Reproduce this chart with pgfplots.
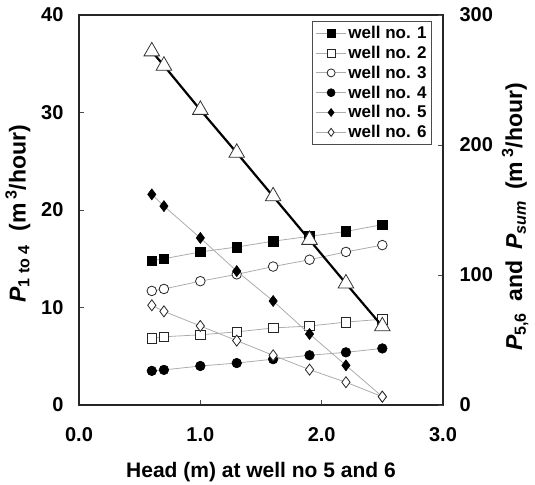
\documentclass[border=0pt]{standalone}
\usepackage{pgfplots}
\pgfplotsset{compat=1.18}
\usepackage{fontspec}
\setmainfont{Liberation Sans}
\pgfplotstableread{
x    w1   w2  w3   w4  w5    w6   sum
0.6  14.8 6.8 11.7 3.5 162   76.7 272
0.7  15.0 7.0 11.9 3.6 153   72.0 261
1.0  15.7 7.2 12.7 4.0 128.5 60.8 227
1.3  16.2 7.5 13.4 4.3 103   49.5 194
1.6  16.8 7.9 14.2 4.7 80    38.2 160.5
1.9  17.3 8.1 14.9 5.1 54.6  27.2 127
2.2  17.8 8.5 15.7 5.4 30.5  17.5 93.5
2.5  18.5 8.8 16.4 5.8 6.4   6.4  60.5
}\datatable
\begin{document}
\begin{tikzpicture}
\pgfplotsset{
  every axis/.append style={
    scale only axis, width=364pt, height=390pt, xmin=0, xmax=3,
    /pgf/number format/assume math mode=true,
    tick label style={font=\fontsize{20}{24}\selectfont\bfseries},
    label style={font=\fontsize{23}{26}\selectfont\bfseries},
    major tick style={black!70, line width=0.8pt},
    major tick length=5pt,
    axis line style={black!85, line width=1.3pt},
  },
  wl/.style={gray!65, line width=0.8pt},
  mfs/.style={mark=square*, mark size=4.8pt, mark options={solid, fill=black, draw=black, line width=0.6pt}},
  mos/.style={mark=square*, mark size=4.8pt, mark options={solid, fill=white, draw=black!85, line width=0.8pt}},
  moc/.style={mark=*, mark size=4.8pt, mark options={solid, fill=white, draw=black!85, line width=0.8pt}},
  mfc/.style={mark=*, mark size=4.8pt, mark options={solid, fill=black, draw=black, line width=0.6pt}},
  mfd/.style={mark=diamond*, mark size=5.5pt, mark options={solid, fill=black, draw=black, line width=0.6pt}},
  mod/.style={mark=diamond*, mark size=5.5pt, mark options={solid, fill=white, draw=black!85, line width=0.8pt}},
}
\begin{axis}[
  name=ax,
  ymin=0, ymax=40, ytick={0,10,20,30,40},
  xtick={0,1,2,3},
  xticklabel style={yshift=-19pt, /pgf/number format/.cd, fixed, fixed zerofill, precision=1},
  yticklabel style={xshift=-12pt},
  xtick pos=left, ytick pos=left,
  xlabel={Head (m) at well no 5 and 6},
  xlabel style={at={(axis description cs:0.5,0)}, anchor=center, yshift=-67pt, font=\fontsize{21}{24}\selectfont\bfseries},
  ylabel={\textit{P}\textsubscript{1 to 4}\hspace{0.3em} (m\,\textsuperscript{3}/hour)},
  ylabel style={at={(axis description cs:0,0.49)}, anchor=center, yshift=61pt},
]
\addplot[wl, mfs] table[x=x, y=w1] {\datatable};
\addplot[wl, mos] table[x=x, y=w2] {\datatable};
\addplot[wl, moc] table[x=x, y=w3] {\datatable};
\addplot[wl, mfc] table[x=x, y=w4] {\datatable};
\end{axis}
\begin{axis}[
  ymin=0, ymax=300, ytick={0,100,200,300},
  axis x line=none, axis y line*=right,
  yticklabel style={xshift=13pt},
  ylabel={\textit{P}\textsubscript{5,6}\hspace{0.2em} and\hspace{0.2em} \textit{P}\textsubscript{\textit{sum}}\hspace{0.2em} (m\,\textsuperscript{3}/hour)},
  ylabel style={at={(axis description cs:1,0.482)}, anchor=center, yshift=-72pt},
  legend style={at={(0.97,0.985)}, anchor=north east, draw=black!70, line width=1pt,
    font=\fontsize{17}{18}\selectfont\bfseries, inner sep=3pt, row sep=2pt},
  legend cell align=left,
  legend image code/.code={\draw[#1, mark size=4pt, mark repeat=2, mark phase=2] plot coordinates {(0pt,0pt) (15pt,0pt) (30pt,0pt)};},
]
\addlegendimage{wl, mfs}
\addlegendentry{well no. 1}
\addlegendimage{wl, mos}
\addlegendentry{well no. 2}
\addlegendimage{wl, moc}
\addlegendentry{well no. 3}
\addlegendimage{wl, mfc}
\addlegendentry{well no. 4}
\addplot[wl, mfd] table[x=x, y=w5] {\datatable};
\addlegendentry{well no. 5}
\addplot[wl, mod] table[x=x, y=w6] {\datatable};
\addlegendentry{well no. 6}
\addplot[black, line width=2.2pt, mark=triangle*, mark size=9pt, mark options={solid, fill=white, draw=black!80, line width=0.8pt}, forget plot] table[x=x, y=sum] {\datatable};
\end{axis}
\pgfresetboundingbox
\useasboundingbox ([shift={(-79pt,-80pt)}]ax.south west) rectangle ([shift={(92pt,15pt)}]ax.north east);
\end{tikzpicture}
\end{document}
